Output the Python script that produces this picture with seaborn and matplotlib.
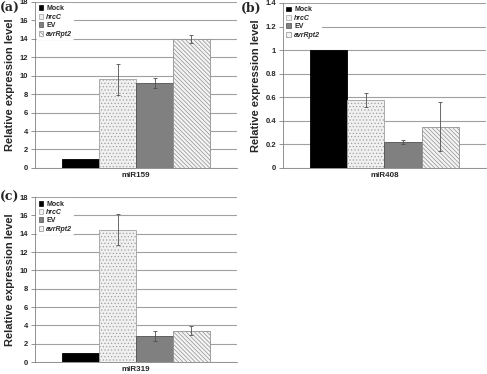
import numpy as np
import pandas as pd
import seaborn as sns
import matplotlib.pyplot as plt

# data
treatments = ['Mock', 'hrcC', 'EV', 'avrRpt2']
mir159 = [1.0, 9.6, 9.2, 14.0]
mir159_err = [0.0, 1.7, 0.55, 0.45]
mir408 = [1.0, 0.58, 0.22, 0.35]
mir408_err = [0.0, 0.06, 0.02, 0.21]
mir319 = [1.0, 14.45, 2.8, 3.4]
mir319_err = [0.0, 1.7, 0.55, 0.5]

colors = ['#000000', '#f0f0f0', '#808080', '#f4f4f4']
edges = ['#000000', '#a0a0a0', '#505050', '#909090']
hatches = [None, '.....', None, '\\\\\\\\\\\\\\\\']

sns.set_style('white')
plt.rcParams['font.family'] = ['Liberation Sans', 'DejaVu Sans']
plt.rcParams['hatch.linewidth'] = 0.5
plt.rcParams['hatch.color'] = '#a8a8a8'

fig = plt.figure(figsize=(4.87, 3.74), dpi=100)


def panel(rect, name, vals, errs, ymax, step, letter, letter_xy, fmt):
    ax = fig.add_axes(rect)
    df = pd.DataFrame({'mirna': name, 'treatment': treatments, 'value': vals})
    sns.barplot(data=df, x='mirna', y='value', hue='treatment', hue_order=treatments,
                palette=colors, width=0.73, ax=ax, errorbar=None, zorder=3)
    bars = [p for p in ax.patches][:4]
    for i, p in enumerate(bars):
        p.set_edgecolor(edges[i])
        p.set_linewidth(0.6)
        if hatches[i]:
            p.set_hatch(hatches[i])
        if errs[i] > 0:
            ax.errorbar(p.get_x() + p.get_width() / 2, vals[i], yerr=errs[i],
                        color='#505050', lw=0.6, capsize=1.5, capthick=0.6, zorder=4)
    ax.set_xlim(-0.5, 0.5)
    ax.set_ylim(0, ymax)
    ticks = np.arange(0, ymax + step / 2, step)
    ax.set_yticks(ticks)
    ax.set_yticklabels([fmt(t) for t in ticks], fontsize=5.5, fontweight='bold')
    ax.yaxis.grid(True, color='#a0a0a0', lw=0.8, zorder=0)
    ax.set_axisbelow(True)
    ax.set_xticks([0])
    ax.set_xticklabels([name], fontsize=5.8, fontweight='bold')
    ax.set_xticks([-0.5, 0.5], minor=True)
    ax.tick_params(axis='x', which='major', length=0, pad=3)
    ax.tick_params(axis='x', which='minor', length=3, color='#808080', width=0.6)
    ax.tick_params(axis='y', length=3, color='#808080', width=0.6, pad=2, left=True)
    for s in ['top', 'right']:
        ax.spines[s].set_visible(False)
    for s in ['left', 'bottom']:
        ax.spines[s].set_color('#808080')
        ax.spines[s].set_linewidth(0.6)
    ax.set_xlabel('')
    ax.set_ylabel('Relative expression level', fontsize=8, fontweight='bold', labelpad=3)
    leg = ax.legend(loc='upper left', bbox_to_anchor=(0.0, 1.0), frameon=True, fontsize=5,
                    handlelength=0.7, handleheight=0.7, handletextpad=0.4, labelspacing=0.2,
                    borderpad=0.3, borderaxespad=0.2, facecolor='white', edgecolor='white',
                    framealpha=1)
    leg.get_frame().set_linewidth(0)
    for i, (t, h) in enumerate(zip(leg.get_texts(), leg.legend_handles)):
        t.set_fontweight('bold')
        if treatments[i] in ('hrcC', 'avrRpt2'):
            t.set_fontstyle('italic')
        h.set_edgecolor(edges[i])
        h.set_linewidth(0.5)
        if treatments[i] == 'avrRpt2':
            h.set_hatch('\\\\\\\\')
    fig.text(letter_xy[0], letter_xy[1], letter, family='DejaVu Serif',
             fontsize=9, fontweight='bold', va='top')
    return ax


def intfmt(t):
    return '%d' % round(t)


def decfmt(t):
    t = round(t, 1)
    return '%d' % t if t == int(t) else '%g' % t


panel([0.072, 0.551, 0.415, 0.444], 'miR159', mir159, mir159_err, 18, 2, '(a)',
      (0.0, 0.995), intfmt)
panel([0.581, 0.551, 0.417, 0.441], 'miR408', mir408, mir408_err, 1.4, 0.2, '(b)',
      (0.494, 0.995), decfmt)
panel([0.072, 0.032, 0.415, 0.441], 'miR319', mir319, mir319_err, 18, 2, '(c)',
      (0.0, 0.49), intfmt)

fig.savefig('out.png', dpi=100)
